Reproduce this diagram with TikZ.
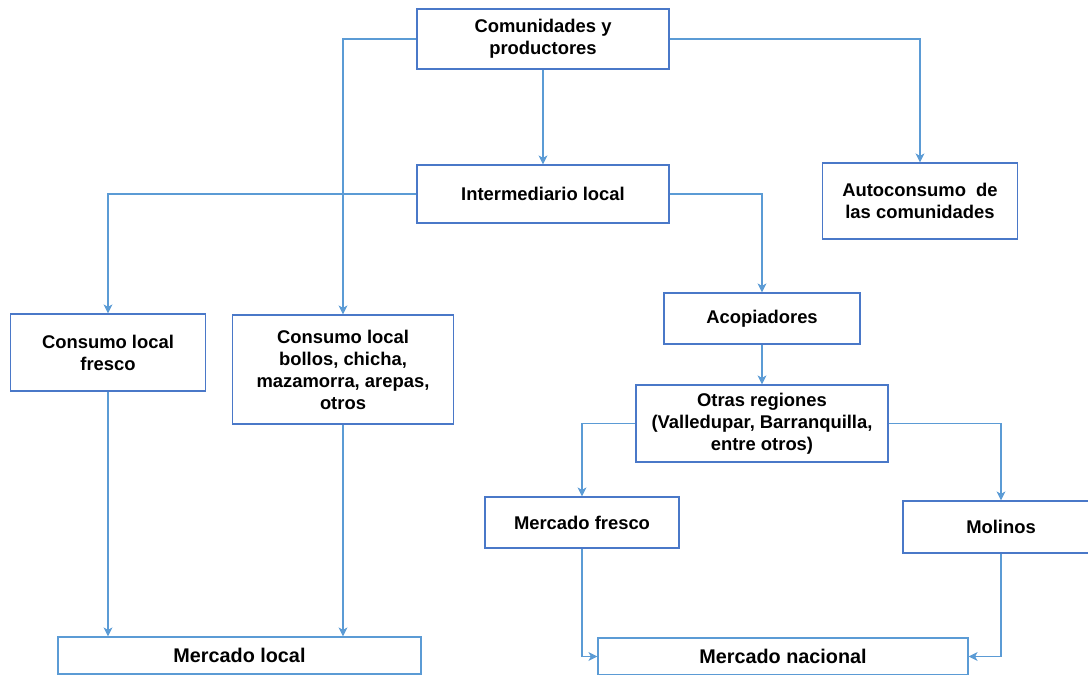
\documentclass[tikz,border=0pt]{standalone}
\usepackage{fontspec}
\setmainfont{Liberation Sans}
\usetikzlibrary{arrows.meta}
\definecolor{boxblue}{HTML}{4A78C8}
\definecolor{lightblue}{HTML}{5B9BD5}
\definecolor{linkblue}{HTML}{5B9BD5}
\tikzset{
  box/.style={draw=boxblue, line width=1.2pt, fill=white, inner sep=0pt, align=center,
    font=\fontsize{18.4}{22}\selectfont\bfseries, text=black},
  lbox/.style={box, draw=lightblue, font=\fontsize{19.8}{23}\selectfont\bfseries},
  conn/.style={draw=linkblue, line width=1.1pt, -{Stealth[length=9pt,width=9pt,inset=2.5pt]}},
  plain/.style={draw=linkblue, line width=1.1pt}
}
\begin{document}
\begin{tikzpicture}[x=1pt,y=-1pt]
\useasboundingbox (0,0) rectangle (1088,675);
\node[box, minimum width=252pt, minimum height=60pt] (top) at (543,39) {Comunidades y\\productores};
\node[box, minimum width=252pt, minimum height=58pt] (inter) at (543,194) {Intermediario local};
\node[box, minimum width=195pt, minimum height=76pt] (auto) at (920,201) {Autoconsumo\ \ de\\las comunidades};
\node[box, minimum width=195pt, minimum height=77pt] (fresco) at (108,352.5) {Consumo local\\fresco};
\node[box, minimum width=221pt, minimum height=109pt] (bollos) at (343,369.5) {Consumo local\\bollos, chicha,\\mazamorra, arepas,\\otros};
\node[box, minimum width=196pt, minimum height=51pt] (acop) at (762,318.5) {Acopiadores};
\node[box, minimum width=252pt, minimum height=77pt] (otras) at (762,423.5) {Otras regiones\\(Valledupar, Barranquilla,\\entre otros)};
\node[box, minimum width=194pt, minimum height=51pt] (mfresco) at (582,522.5) {Mercado fresco};
\node[box, minimum width=196pt, minimum height=52pt] (molinos) at (1001,527) {Molinos};
\node[lbox, minimum width=370pt, minimum height=37pt] (mnac) at (783,656.5) {Mercado nacional};
\node[lbox, minimum width=363pt, minimum height=37pt] (mlocal) at (239.5,655.5) {Mercado local};

\draw[conn] (top.west) -| (bollos.north);
\draw[conn] (top.east) -| (auto.north);
\draw[conn] (top.south) -- (inter.north);
\draw[conn] (inter.west) -| (fresco.north);
\draw[conn] (inter.east) -| (acop.north);
\draw[conn] (acop.south) -- (otras.north);
\draw[conn] (otras.west) -| (mfresco.north);
\draw[conn] (otras.east) -| (molinos.north);
\draw[conn] (fresco.south) -- (fresco.south |- mlocal.north);
\draw[conn] (bollos.south) -- (bollos.south |- mlocal.north);
\draw[conn] (mfresco.south) |- (mnac.west);
\draw[conn] (molinos.south) |- (mnac.east);
\end{tikzpicture}
\end{document}
